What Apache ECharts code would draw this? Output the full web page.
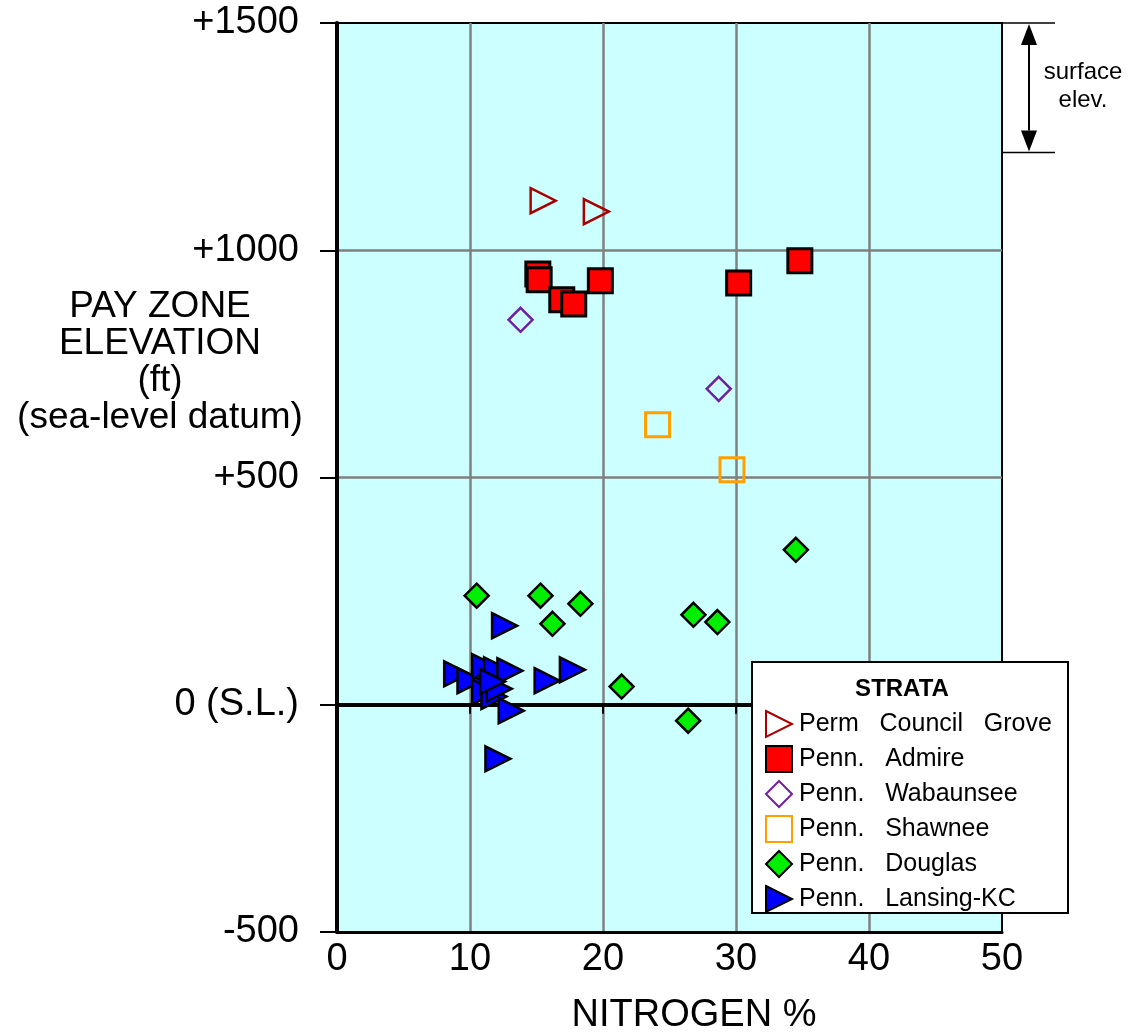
<!DOCTYPE html>
<html><head><meta charset="utf-8">
<script src="https://cdn.jsdelivr.net/npm/echarts@6/dist/echarts.min.js"></script>
<style>html,body{margin:0;padding:0;background:#fff}#c{width:1129px;height:1034px}</style>
</head><body><div id="c"></div>
<script>
const FONT = '"Liberation Sans", Arial, Helvetica, sans-serif';

// ---- axis ticks ----
const xTickValues = [0, 10, 20, 30, 40, 50];
const yTickValues = [-500, 0, 500, 1000, 1500];
const yTickLabels = ['-500', '0 (S.L.)', '+500', '+1000', '+1500'];

// ---- legend labels ----
const seriesNames = ['Perm   Council   Grove', 'Penn.   Admire', 'Penn.   Wabaunsee', 'Penn.   Shawnee', 'Penn.   Douglas', 'Penn.   Lansing-KC'];

// ---- data: nitrogen % and pay-zone elevation (ft) ----
const councilGroveN = [15.5, 19.5];
const councilGroveElev = [1109, 1085];

const admireN = [15.1, 15.2, 16.9, 17.8, 19.8, 30.2, 34.8];
const admireElev = [948, 935, 891, 882, 933, 928, 977];

const wabaunseeN = [13.8, 28.7];
const wabaunseeElev = [847, 695];

const shawneeN = [24.1, 29.7];
const shawneeElev = [616, 517];

const douglasN = [10.5, 15.3, 18.3, 16.2, 21.4, 26.8, 28.6, 26.4, 34.5];
const douglasElev = [240, 240, 222, 178, 40, 198, 182, -35, 341];

const lansingN = [12.6, 9.0, 10.0, 11.1, 12.0, 13.0, 11.1, 11.8, 12.2, 11.7, 15.8, 17.7, 13.1, 12.1];
const lansingElev = [174, 68, 53, 84, 77, 75, 28, 18, 35, 51, 53, 77, -13, -119];

// surface elevation annotation range (ft)
const surfaceElevRange = [1500, 1215];

const pairs = (xs, ys) => xs.map((x, i) => [x, ys[i]]);
const TRI = 'path://M0,0L1,0.5L0,1Z';

const chart = echarts.init(document.getElementById('c'), null, {renderer: 'canvas'});

function mk(name, xs, ys, symbol, size, fill, stroke, bw) {
  return {
    name: name, type: 'scatter', data: pairs(xs, ys),
    symbol: symbol, symbolSize: size,
    itemStyle: {color: fill, borderColor: stroke, borderWidth: bw, opacity: 1},
    emphasis: {disabled: true}, silent: true, z: 3
  };
}

const option = {
  animation: false,
  backgroundColor: '#ffffff',
  grid: {left: 337, right: 127, top: 23, bottom: 102, show: true,
         backgroundColor: '#ccffff', borderColor: '#000', borderWidth: 2},
  xAxis: [{
    type: 'value', min: 0, max: 50, interval: 10, position: 'bottom',
    axisLine: {onZero: false, lineStyle: {color: '#000', width: 3}},
    axisTick: {show: false},
    axisLabel: {fontFamily: FONT, fontSize: 38, color: '#000', margin: 9,
                formatter: v => xTickValues.includes(v) ? String(v) : ''},
    splitLine: {show: true, showMinLine: false, showMaxLine: false, lineStyle: {color: '#808080', width: 2.5}}
  }, {
    type: 'value', min: 0, max: 50, interval: 10, position: 'top',
    axisLine: {onZero: true, lineStyle: {color: '#000', width: 4}},
    axisTick: {show: true, inside: true, length: 9, lineStyle: {color: '#000', width: 2}},
    axisLabel: {show: false},
    splitLine: {show: false}
  }],
  yAxis: {
    type: 'value', min: -500, max: 1500, interval: 500,
    axisLine: {onZero: false, lineStyle: {color: '#000', width: 4}},
    axisTick: {show: true, length: 17, lineStyle: {color: '#000', width: 2}},
    axisLabel: {fontFamily: FONT, fontSize: 38, color: '#000', margin: 38,
                formatter: v => { const i = yTickValues.indexOf(v); return i >= 0 ? yTickLabels[i] : ''; }},
    splitLine: {show: true, showMinLine: false, showMaxLine: false, lineStyle: {color: '#808080', width: 2.5}}
  },
  legend: {
    show: true, orient: 'vertical', left: 765, top: 710, padding: 0,
    itemWidth: 26, itemHeight: 26, itemGap: 7, selectedMode: false, z: 20,
    textStyle: {fontFamily: FONT, fontSize: 25, color: '#000', padding: [0, 0, 0, 2]},
    data: seriesNames
  },
  series: [
    mk(seriesNames[0], councilGroveN, councilGroveElev, TRI, [25, 25], 'rgba(255,255,255,0)', '#aa0000', 2.5),
    mk(seriesNames[1], admireN, admireElev, 'rect', 24, '#ff0000', '#000', 3),
    mk(seriesNames[2], wabaunseeN, wabaunseeElev, 'diamond', 24, 'rgba(255,255,255,0)', '#7020a0', 2.5),
    mk(seriesNames[3], shawneeN, shawneeElev, 'rect', 24, 'rgba(255,255,255,0)', '#ffa000', 3),
    mk(seriesNames[4], douglasN, douglasElev, 'diamond', 24, '#00ee00', '#000', 2.5),
    mk(seriesNames[5], lansingN, lansingElev, TRI, [25, 25], '#0000ff', '#000', 2.5)
  ]
};
chart.setOption(option);

// annotations placed from axis scale
const xR = chart.convertToPixel({xAxisIndex: 0}, 50);
const yTop = chart.convertToPixel({yAxisIndex: 0}, surfaceElevRange[0]);
const yBot = chart.convertToPixel({yAxisIndex: 0}, surfaceElevRange[1]);
const ax = xR + 27, ah = 22, aw = 8;

chart.setOption({
  graphic: [
    {type: 'rect', z: 15, shape: {x: 752, y: 662, width: 316, height: 251},
     style: {fill: '#fff', stroke: '#000', lineWidth: 2}},
    {type: 'text', z: 16, x: 902, y: 689,
     style: {text: 'STRATA', font: 'bold 24px ' + FONT, fill: '#000', align: 'center', verticalAlign: 'middle'}},
    {type: 'text', z: 16, x: 160, y: 362,
     style: {text: 'PAY ZONE\nELEVATION\n(ft)\n(sea-level datum)', font: '37px ' + FONT, lineHeight: 37,
             fill: '#000', align: 'center', verticalAlign: 'middle'}},
    {type: 'text', z: 16, x: 694, y: 1016,
     style: {text: 'NITROGEN %', font: '38px ' + FONT, fill: '#000', align: 'center', verticalAlign: 'middle'}},
    {type: 'line', z: 16, shape: {x1: xR, y1: yTop, x2: xR + 53, y2: yTop}, style: {stroke: '#000', lineWidth: 1.5}},
    {type: 'line', z: 16, shape: {x1: xR, y1: yBot, x2: xR + 53, y2: yBot}, style: {stroke: '#000', lineWidth: 1.5}},
    {type: 'line', z: 16, shape: {x1: ax, y1: yTop + ah, x2: ax, y2: yBot - ah}, style: {stroke: '#000', lineWidth: 2}},
    {type: 'polygon', z: 16, shape: {points: [[ax, yTop + 1], [ax - aw, yTop + ah], [ax + aw, yTop + ah]]}, style: {fill: '#000'}},
    {type: 'polygon', z: 16, shape: {points: [[ax, yBot - 1], [ax - aw, yBot - ah], [ax + aw, yBot - ah]]}, style: {fill: '#000'}},
    {type: 'text', z: 16, x: 1083, y: 86,
     style: {text: 'surface\nelev.', font: '24px ' + FONT, lineHeight: 28, fill: '#000', align: 'center', verticalAlign: 'middle'}}
  ]
});
</script>
</body></html>
